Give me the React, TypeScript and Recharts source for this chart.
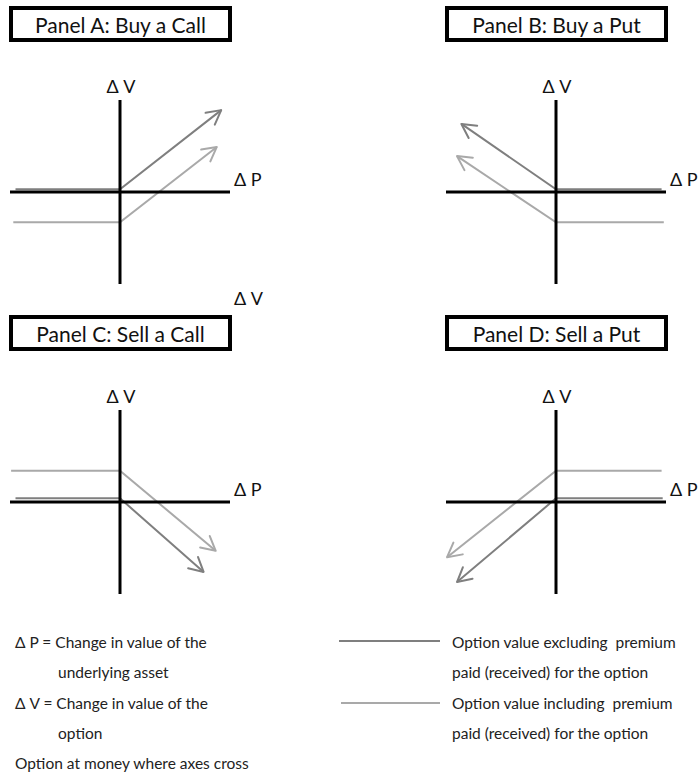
import React from 'react';
import { LineChart, Line, XAxis, YAxis, ReferenceLine } from 'recharts';

type Pt = { x: number; y: number };

// x = change in the underlying (ΔP), y = change in option value (ΔV)
const titles = ['Panel A: Buy a Call', 'Panel B: Buy a Put', 'Panel C: Sell a Call', 'Panel D: Sell a Put'];

const buyCallExcl: Pt[] = [{ x: -9.5, y: 0.3 }, { x: 0, y: 0.3 }, { x: 9.2, y: 8.9 }];
const buyCallIncl: Pt[] = [{ x: -9.7, y: -3.3 }, { x: 0, y: -3.3 }, { x: 8.8, y: 4.9 }];
const buyPutExcl: Pt[] = [{ x: 9.6, y: 0.3 }, { x: 0, y: 0.3 }, { x: -8.6, y: 7.4 }];
const buyPutIncl: Pt[] = [{ x: 9.8, y: -3.3 }, { x: 0, y: -3.3 }, { x: -9.0, y: 3.9 }];
const sellCallExcl: Pt[] = [{ x: -9.5, y: 0.4 }, { x: 0, y: 0.4 }, { x: 7.6, y: -7.6 }];
const sellCallIncl: Pt[] = [{ x: -9.9, y: 3.4 }, { x: 0, y: 3.4 }, { x: 8.7, y: -5.3 }];
const sellPutExcl: Pt[] = [{ x: 9.7, y: 0.4 }, { x: 0, y: 0.4 }, { x: -9.0, y: -8.7 }];
const sellPutIncl: Pt[] = [{ x: 9.6, y: 3.4 }, { x: 0, y: 3.4 }, { x: -9.9, y: -6.0 }];

const legendLeft = [
  'Δ P = Change in value of the',
  'underlying asset',
  'Δ V = Change in value of the',
  'option',
  'Option at money where axes cross',
];
const legendRight = [
  'Option value excluding  premium',
  'paid (received) for the option',
  'Option value including  premium',
  'paid (received) for the option',
];

const DARK = '#7f7f7f';
const LIGHT = '#a9a9a9';
const FONT = 'Lato, "Open Sans", sans-serif';

const HALF_W = 110;
const HALF_H = 92;
const M = 14;

const panels = [
  { id: 'a', ox: 120, oy: 192, excl: buyCallExcl, incl: buyCallIncl },
  { id: 'b', ox: 556, oy: 192, excl: buyPutExcl, incl: buyPutIncl },
  { id: 'c', ox: 120, oy: 502, excl: sellCallExcl, incl: sellCallIncl },
  { id: 'd', ox: 556, oy: 502, excl: sellPutExcl, incl: sellPutIncl },
];

function Arrow({ id, color }: { id: string; color: string }) {
  return (
    <marker
      id={id}
      viewBox="-18 -10 20 20"
      refX={0}
      refY={0}
      markerWidth={20}
      markerHeight={20}
      markerUnits="userSpaceOnUse"
      orient="auto"
      style={{ overflow: 'visible' }}
    >
      <path d="M-14,-7.5 L0,0 L-14,7.5" fill="none" stroke={color} strokeWidth={2} strokeLinecap="round" strokeLinejoin="round" />
    </marker>
  );
}

function Panel({ id, ox, oy, excl, incl }: { id: string; ox: number; oy: number; excl: Pt[]; incl: Pt[] }) {
  return (
    <div style={{ position: 'absolute', left: ox - HALF_W - M, top: oy - HALF_H - M }}>
      <LineChart width={HALF_W * 2 + M * 2} height={HALF_H * 2 + M * 2} margin={{ top: M, right: M, bottom: M, left: M }}>
        <defs>
          <Arrow id={`arrow-${id}-dark`} color={DARK} />
          <Arrow id={`arrow-${id}-light`} color={LIGHT} />
        </defs>
        <XAxis type="number" dataKey="x" domain={[-10, 10]} hide allowDataOverflow />
        <YAxis type="number" dataKey="y" domain={[-10, 10]} hide allowDataOverflow />
        <Line
          data={incl}
          dataKey="y"
          type="linear"
          stroke={LIGHT}
          strokeWidth={2}
          dot={false}
          activeDot={false}
          isAnimationActive={false}
          markerEnd={`url(#arrow-${id}-light)`}
        />
        <Line
          data={excl}
          dataKey="y"
          type="linear"
          stroke={DARK}
          strokeWidth={2}
          dot={false}
          activeDot={false}
          isAnimationActive={false}
          markerEnd={`url(#arrow-${id}-dark)`}
        />
        <ReferenceLine x={0} stroke="#000" strokeWidth={3} />
        <ReferenceLine y={0} stroke="#000" strokeWidth={3} />
      </LineChart>
    </div>
  );
}

export default function App() {
  const boxes = [
    { left: 9, top: 6 },
    { left: 445, top: 6 },
    { left: 9, top: 315 },
    { left: 445, top: 315 },
  ];
  return (
    <div style={{ position: 'absolute', left: 0, top: 0, width: 699, height: 773, background: '#fff', overflow: 'hidden', fontFamily: FONT }}>
      {titles.map((t, i) => (
        <div
          key={t}
          style={{
            position: 'absolute',
            left: boxes[i].left,
            top: boxes[i].top,
            width: 223,
            height: 36,
            boxSizing: 'border-box',
            border: '4px solid #000',
            display: 'flex',
            alignItems: 'center',
            justifyContent: 'center',
            fontSize: 21,
            color: '#111',
          }}
        >
          {t}
        </div>
      ))}

      {panels.map((p) => (
        <Panel key={p.id} {...p} />
      ))}

      <svg width={699} height={773} style={{ position: 'absolute', left: 0, top: 0, pointerEvents: 'none' }}>
        <g fontFamily={FONT} fontSize={18} fill="#111">
          {panels.map((p) => (
            <React.Fragment key={p.id}>
              <text x={p.ox + 1} y={p.oy - 99} textAnchor="middle" xmlSpace="preserve">Δ V</text>
              <text x={p.ox + 114} y={p.oy - 6} xmlSpace="preserve">Δ P</text>
            </React.Fragment>
          ))}
          <text x={234} y={305}>Δ V</text>
        </g>
        <g fontFamily={FONT} fontSize={15.5} fill="#222">
          {legendLeft.map((t, i) => (
            <text key={i} x={i === 1 || i === 3 ? 58 : 15} y={648 + i * 30.3} xmlSpace="preserve">{t}</text>
          ))}
          {legendRight.map((t, i) => (
            <text key={i} x={452} y={648 + i * 30.3} xmlSpace="preserve">{t}</text>
          ))}
        </g>
        <line x1={339} x2={440} y1={641} y2={641} stroke={DARK} strokeWidth={2} />
        <line x1={341} x2={440} y1={703} y2={703} stroke={LIGHT} strokeWidth={2} />
      </svg>
    </div>
  );
}
